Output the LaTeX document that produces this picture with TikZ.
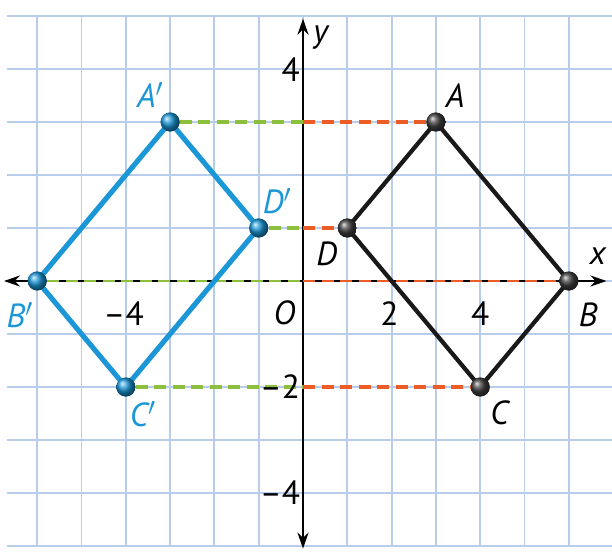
\documentclass[tikz,border=0pt]{standalone}
\usepackage{fontspec}
\setmainfont{PT Sans}
\usepackage{xcolor}
\usepackage{tikz}
\usetikzlibrary{arrows.meta,positioning}
\definecolor{azul}{RGB}{27,150,214}
\definecolor{verde}{RGB}{140,192,60}
\definecolor{laranja}{RGB}{236,92,38}
\definecolor{malha}{RGB}{184,204,236}
\tikzset{
    linhaMalha/.style={malha, line width=1.1pt},
    eixo/.style={line width=1.4pt, {Stealth[length=3.2mm,width=2.2mm]}-{Stealth[length=3.2mm,width=2.2mm]}},
    ponto/.style={circle, inner sep=0pt, minimum size=3.8mm},
    pontoPreto/.style={ponto, ball color=black!75},
    pontoAzul/.style={ponto, ball color=azul},
    ladoPreto/.style={line width=2.4pt, black!90},
    ladoAzul/.style={line width=2.9pt, azul},
    tracoVerde/.style={verde, line width=1.9pt, dash pattern=on 2.4mm off 1.3mm},
    tracoLaranja/.style={laranja, line width=1.9pt, dash pattern=on 2.4mm off 1.3mm},
    rotulo/.style={font=\fontsize{19}{20}\selectfont\itshape, inner sep=1pt},
    rotuloAzul/.style={rotulo, azul},
    numero/.style={font=\fontsize{19}{20}\selectfont, inner sep=1pt}
}

\begin{document}
\begin{tikzpicture}[x=0.886cm, y=1.06cm]
        \useasboundingbox[fill=white] (-6.84,-5.113) rectangle (6.975,5.302);

        % malha
        \foreach \i in {-5,...,5}
            \draw[linhaMalha] (-6.68,\i) -- (6.975,\i);
        \foreach \i in {-6,...,6}
            \draw[linhaMalha] (\i,-5) -- (\i,5);

        % eixos
        \coordinate (xesq) at (-6.75,0);
        \coordinate (xdir) at (6.85,0);
        \coordinate (ycima) at (0,4.95);
        \coordinate (ybaixo) at (0,-5.05);
        \coordinate (O) at (0,0);
        \draw[eixo] (xesq) -- (xdir);
        \draw[eixo] (ybaixo) -- (ycima);

        % vertices
        \node[pontoPreto] (A) at (3,3) {};
        \node[pontoPreto] (B) at (6,0) {};
        \node[pontoPreto] (C) at (4,-2) {};
        \node[pontoPreto] (D) at (1,1) {};
        \node[pontoAzul] (A1) at (-3,3) {};
        \node[pontoAzul] (B1) at (-6,0) {};
        \node[pontoAzul] (C1) at (-4,-2) {};
        \node[pontoAzul] (D1) at (-1,1) {};

        % pontos no eixo y
        \coordinate (yA) at (0,3);
        \coordinate (yD) at (0,1);
        \coordinate (yC) at (0,-2);

        % tracejados
        \draw[tracoVerde] (A1) -- (yA);
        \draw[tracoLaranja] (yA) -- (A);
        \draw[tracoVerde] (D1) -- (yD);
        \draw[tracoLaranja] (yD) -- (D);
        \draw[tracoVerde] (C1) -- (yC);
        \draw[tracoLaranja] (yC) -- (C);
        \draw[tracoVerde, line width=1.4pt] (B1) -- (O);
        \draw[tracoLaranja, line width=1.4pt] (O) -- (B);

        % quadrilateros
        \draw[ladoPreto, line join=round] (A.center) -- (B.center) -- (C.center) -- (D.center) -- cycle;
        \draw[ladoAzul, line join=round] (A1.center) -- (B1.center) -- (C1.center) -- (D1.center) -- cycle;
        \node[pontoPreto] at (A) {};
        \node[pontoPreto] at (B) {};
        \node[pontoPreto] at (C) {};
        \node[pontoPreto] at (D) {};
        \node[pontoAzul] at (A1) {};
        \node[pontoAzul] at (B1) {};
        \node[pontoAzul] at (C1) {};
        \node[pontoAzul] at (D1) {};

        % rotulos
        \node[rotulo, above right=0.1cm and 0.02cm of A] {A};
        \node[rotulo, below right=0.25cm and 0.02cm of B] {B};
        \node[rotulo, below right=0.1cm and 0.02cm of C] {C};
        \node[rotulo, below left=0.1cm and 0.02cm of D] {D};
        \node[rotuloAzul, above left=0.1cm and -0.05cm of A1] {A$'$};
        \node[rotuloAzul, below left=0.25cm and -0.1cm of B1] {B$'$};
        \node[rotuloAzul, below right=0.1cm and -0.1cm of C1] {C$'$};
        \node[rotuloAzul, above right=0.1cm and -0.1cm of D1] {D$'$};
        \node[rotulo] (lx) at (6.65,0.47) {x};
        \node[rotulo] (ly) at (0.4,4.6) {y};
        \node[rotulo] (lO) at (-0.42,-0.6) {O};
        \node[numero] (n4x) at (-4.05,-0.62) {–4};
        \node[numero] (p2x) at (1.95,-0.62) {2};
        \node[numero] (p4x) at (4,-0.62) {4};
        \node[numero, left=0.02cm of ycima, yshift=-1.01cm] (p4y) {4};
        \node[numero, anchor=east] (n2y) at (-0.02,-2) {–2};
        \node[numero, anchor=east] (n4y) at (-0.02,-4) {–4};
    \end{tikzpicture}
\end{document}
